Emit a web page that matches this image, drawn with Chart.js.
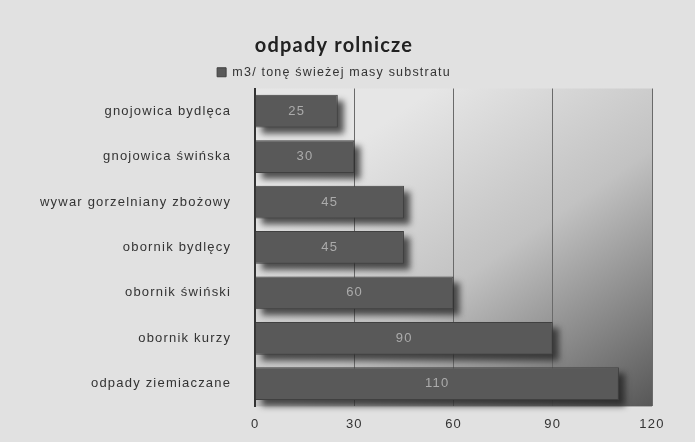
<!DOCTYPE html>
<html>
<head>
<meta charset="utf-8">
<script src="https://cdn.jsdelivr.net/npm/chart.js@4"></script>
<style>
    html, body { margin: 0; padding: 0; background: #e1e1e1; }
    #wrap { width: 695px; height: 442px; position: relative; }
</style>
</head>
<body>
<div id="wrap"><canvas id="graph"></canvas></div>
<script>
const categories = ['gnojowica bydlęca', 'gnojowica świńska', 'wywar gorzelniany zbożowy', 'obornik bydlęcy', 'obornik świński', 'obornik kurzy', 'odpady ziemiaczane'];
const values = [25, 30, 45, 45, 60, 90, 110];
const xTicks = [0, 30, 60, 90, 120];
const seriesName = 'm3/ tonę świeżej masy substratu';
const chartTitle = 'odpady rolnicze';

const SPACING = '1.2px';

// letter spacing has to be set again after chart.js resets the canvas
const spacing = {
    id: 'spacing',
    beforeLayout(chart) { chart.ctx.letterSpacing = SPACING; },
    beforeDraw(chart) { chart.ctx.letterSpacing = SPACING; }
};

// gradient behind the plot area
const areaBg = {
    id: 'areaBg',
    beforeDraw(chart) {
        const { ctx, chartArea: a } = chart;
        const w = a.right - a.left;
        const g = ctx.createLinearGradient(a.left + w * 0.45, a.top, a.right, a.bottom);
        g.addColorStop(0, '#e6e6e6');
        g.addColorStop(0.45, '#c2c2c2');
        g.addColorStop(1, '#575757');
        ctx.save();
        ctx.fillStyle = g;
        ctx.fillRect(a.left, a.top, w, a.bottom - a.top);
        ctx.restore();
    }
};

// blurred drop shadow under the bars, then the value labels on top
const barShadow = {
    id: 'barShadow',
    beforeDatasetsDraw(chart) {
        const { ctx, chartArea: a } = chart;
        const meta = chart.getDatasetMeta(0);
        ctx.save();
        ctx.beginPath();
        ctx.rect(a.left, a.top, a.right - a.left + 10, a.bottom - a.top + 10);
        ctx.clip();
        ctx.filter = 'blur(3px)';
        ctx.fillStyle = 'rgba(30,30,30,0.75)';
        meta.data.forEach((bar) => {
            const h = bar.height;
            ctx.fillRect(bar.base + 6, bar.y - h / 2 + 6, bar.x - bar.base, h);
        });
        ctx.restore();
    },
    afterDatasetsDraw(chart) {
        const ctx = chart.ctx;
        const meta = chart.getDatasetMeta(0);
        ctx.save();
        ctx.font = '13px "Liberation Sans", Arial, sans-serif';
        ctx.fillStyle = '#ababab';
        ctx.textAlign = 'center';
        ctx.textBaseline = 'middle';
        meta.data.forEach((bar, i) => {
            const cx = (bar.base + bar.x) / 2;
            ctx.fillText(values[i], cx, bar.y);
        });
        ctx.restore();
    }
};

const ctx = document.getElementById('graph').getContext('2d');
new Chart(ctx, {
    type: 'bar',
    data: {
        labels: categories,
        datasets: [{
            label: seriesName,
            data: values,
            backgroundColor: '#595959',
            borderColor: '#404040',
            borderWidth: 1,
            categoryPercentage: 1,
            barPercentage: 0.72
        }]
    },
    options: {
        indexAxis: 'y',
        responsive: true,
        maintainAspectRatio: false,
        animation: false,
        layout: { padding: { top: 34, right: 43, bottom: 0, left: 16 } },
        scales: {
            x: {
                min: 0,
                max: 120,
                afterBuildTicks: (axis) => { axis.ticks = xTicks.map(v => ({ value: v })); },
                grid: { color: '#6a6a6a', lineWidth: 1, drawTicks: false },
                border: { display: false },
                ticks: {
                    color: '#333',
                    padding: 10,
                    font: { family: '"Liberation Sans", Arial, sans-serif', size: 13 }
                }
            },
            y: {
                grid: { display: false, drawTicks: false },
                border: { display: true, color: '#333', width: 2 },
                ticks: {
                    color: '#333',
                    padding: 24,
                    font: { family: '"Liberation Sans", Arial, sans-serif', size: 13 }
                }
            }
        },
        plugins: {
            title: {
                display: true,
                text: chartTitle,
                color: '#222',
                font: { family: 'Lato, "DejaVu Sans", sans-serif', size: 20, weight: 'bold' },
                padding: { top: 0, bottom: -4 }
            },
            legend: {
                display: true,
                position: 'top',
                labels: {
                    color: '#333',
                    boxWidth: 9,
                    boxHeight: 9,
                    padding: 12,
                    font: { family: '"Liberation Sans", Arial, sans-serif', size: 12.5 }
                }
            },
            tooltip: { enabled: false }
        }
    },
    plugins: [spacing, areaBg, barShadow]
});
</script>
</body>
</html>
